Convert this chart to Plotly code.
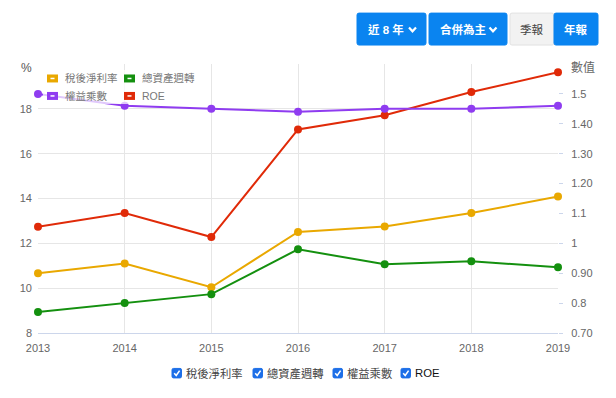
import plotly.graph_objects as go

# ---------------- data ----------------
years = [2013, 2014, 2015, 2016, 2017, 2018, 2019]
net_margin = [10.66, 11.10, 10.04, 12.51, 12.75, 13.35, 14.09]      # 稅後淨利率 (%)
asset_turnover = [0.77, 0.80, 0.83, 0.98, 0.93, 0.94, 0.92]          # 總資產週轉 (數值)
equity_multiplier = [1.50, 1.46, 1.45, 1.44, 1.45, 1.45, 1.46]       # 權益乘數 (數值)
roe = [12.74, 13.35, 12.28, 17.08, 17.71, 18.75, 19.63]              # ROE (%)

series_names = ["稅後淨利率", "總資產週轉", "權益乘數", "ROE"]
series_colors = ["#e9a800", "#14900f", "#8f3cf0", "#e02a08"]

left_ticks = [8, 10, 12, 14, 16, 18, 20]
left_labels = ["8", "10", "12", "14", "16", "18", ""]
right_ticks = [0.7, 0.8, 0.9, 1.0, 1.1, 1.2, 1.3, 1.4, 1.5]
right_labels = ["0.70", "0.8", "0.90", "1", "1.1", "1.20", "1.30", "1.40", "1.5"]

buttons = ["近 8 年", "合併為主", "季報", "年報"]

# ---------------- layout geometry ----------------
W, H = 616, 398
L, R, T, B = 38, 558, 64, 333.5
FONT = "Liberation Sans, Arial, Noto Sans CJK TC, sans-serif"


def px(x):
    return (x - L) / (R - L)


def py(y):
    return (B - y) / (B - T)


fig = go.Figure()

values = [net_margin, asset_turnover, equity_multiplier, roe]
axes = ["y", "y2", "y2", "y"]
for name, vals, col, ax in zip(series_names, values, series_colors, axes):
    fig.add_trace(go.Scatter(
        x=years, y=vals, name=name, yaxis=ax, mode="lines+markers",
        line=dict(color=col, width=2), marker=dict(color=col, size=8),
        cliponaxis=False, showlegend=False,
    ))

shapes = []
annotations = []


def rrect(x0, y0, x1, y1, r, fill, line_color=None):
    X0, X1 = px(x0), px(x1)
    Y0, Y1 = py(y0), py(y1)
    rx = r / (R - L)
    ry = r / (B - T)
    path = (f"M {X0+rx},{Y0} L {X1-rx},{Y0} Q {X1},{Y0} {X1},{Y0-ry} "
            f"L {X1},{Y1+ry} Q {X1},{Y1} {X1-rx},{Y1} L {X0+rx},{Y1} "
            f"Q {X0},{Y1} {X0},{Y1+ry} L {X0},{Y0-ry} Q {X0},{Y0} {X0+rx},{Y0} Z")
    shapes.append(dict(type="path", xref="paper", yref="paper", path=path,
                       fillcolor=fill, line=dict(color=line_color or fill, width=1),
                       layer="above"))


def text(x, y, s, size=11, color="#666", xanchor="center", bold=False):
    if bold:
        s = f"<b>{s}</b>"
    annotations.append(dict(x=px(x), y=py(y), xref="paper", yref="paper", text=s,
                            showarrow=False, xanchor=xanchor, yanchor="middle",
                            font=dict(size=size, color=color, family=FONT)))


def chevron(xc, yc):
    pts = [(xc - 3.5, yc - 2), (xc, yc + 1.8), (xc + 3.5, yc - 2)]
    path = "M " + " L ".join(f"{px(a)},{py(b)}" for a, b in pts)
    shapes.append(dict(type="path", xref="paper", yref="paper", path=path,
                       line=dict(color="white", width=2.2), layer="above"))


# ---------------- top buttons ----------------
BLUE = "#0a84f0"
rrect(357, 13, 426, 45, 2, BLUE)
text(385.5, 29.5, buttons[0], 11.5, "white", bold=True)
chevron(412.5, 29.5)
rrect(429, 13, 507, 45, 2, BLUE)
text(463, 29.5, buttons[1], 11.5, "white", bold=True)
chevron(493, 29.5)
rrect(510, 13, 554, 45, 2, "#f2f2f2", "#e2e2e2")
text(532, 29.5, buttons[2], 11.5, "#444")
rrect(554, 13, 598, 45, 2, BLUE)
text(576, 29.5, buttons[3], 11.5, "white", bold=True)

# ---------------- in-plot legend ----------------
shapes.append(dict(type="rect", xref="paper", yref="paper",
                   x0=px(43), x1=px(196), y0=py(104), y1=py(70),
                   fillcolor="rgba(255,255,255,0.72)", line=dict(width=0), layer="above"))
leg_pos = [(47, 78.5), (124, 78.5), (47, 96), (124, 96)]
for (lx, ly), name, col in zip(leg_pos, series_names, series_colors):
    shapes.append(dict(type="rect", xref="paper", yref="paper",
                       x0=px(lx), x1=px(lx + 11), y0=py(ly + 4), y1=py(ly - 4),
                       fillcolor=col, line=dict(width=0), layer="above"))
    shapes.append(dict(type="line", xref="paper", yref="paper",
                       x0=px(lx + 3.5), x1=px(lx + 7.5), y0=py(ly), y1=py(ly),
                       line=dict(color="white", width=1.5), layer="above"))
    text(lx + 15.5, ly, name, 10.5, "#777", xanchor="left")

# ---------------- axis titles ----------------
text(26, 68, "%", 12, "#555")
text(583, 68, "數值", 12, "#666")

# ---------------- bottom checkboxes ----------------
cb_pos = [172, 253, 333, 401]
for cx, name in zip(cb_pos, series_names):
    rrect(cx, 369, cx + 9.5, 378.5, 1.5, "#1d6fe8")
    pts = [(cx + 2.2, 373.8), (cx + 4.2, 376), (cx + 7.6, 371.2)]
    path = "M " + " L ".join(f"{px(a)},{py(b)}" for a, b in pts)
    shapes.append(dict(type="path", xref="paper", yref="paper", path=path,
                       line=dict(color="white", width=1.6), layer="above"))
    col = "#111" if name == "ROE" else "#444"
    text(cx + 11.5, 374, name, 11.3, col, xanchor="left")

fig.update_layout(
    width=W, height=H,
    margin=dict(l=L, r=W - R, t=T, b=H - B, pad=0),
    paper_bgcolor="white", plot_bgcolor="white",
    font=dict(family=FONT, size=11, color="#666"),
    showlegend=False,
    xaxis=dict(range=[2013, 2019], tickvals=years, ticktext=[str(y) for y in years],
               showgrid=True, gridcolor="#e6e6e6", gridwidth=1,
               showline=True, linecolor="#ccd6eb", linewidth=1,
               zeroline=False, ticks="", tickfont=dict(size=11, color="#666"),
               ticklabelstandoff=5, fixedrange=True),
    yaxis=dict(range=[8, 20], tickvals=left_ticks, ticktext=left_labels,
               showgrid=True, gridcolor="#e6e6e6", gridwidth=1, zeroline=False,
               showline=False, ticks="", tickfont=dict(size=11, color="#666"),
               ticklabelstandoff=5, fixedrange=True),
    yaxis2=dict(range=[0.7, 1.6], overlaying="y", side="right",
                tickvals=right_ticks, ticktext=right_labels, showgrid=False,
                zeroline=False, showline=False, ticks="outside", ticklen=4,
                tickcolor="#ccd6eb", tickfont=dict(size=11, color="#666"),
                ticklabelstandoff=6, fixedrange=True),
    shapes=shapes, annotations=annotations,
)

fig.write_html(
    "out.html",
    config={"displayModeBar": False},
    post_script="document.body.style.margin='0';document.body.style.overflow='hidden';",
)
